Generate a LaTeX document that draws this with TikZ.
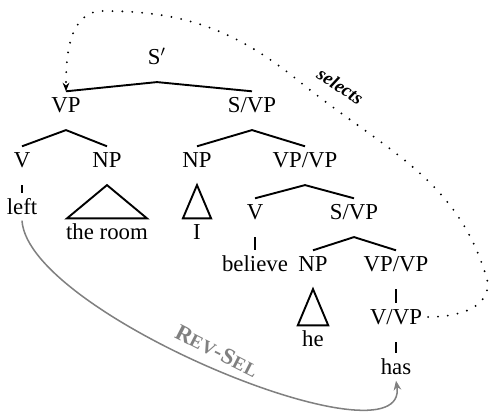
\documentclass[tikz,border=0pt]{standalone}
\usepackage{fontspec}
\setmainfont{Liberation Serif}
\usetikzlibrary{arrows.meta}

\begin{document}
\begin{tikzpicture}[x=0.526pt, y=-0.526pt,
        every node/.style={font=\fontsize{12}{14}\selectfont, inner sep=3pt, text height=8pt, text depth=0pt},
        edge/.style={line width=1pt},
        sel/.style={line width=1.1pt, line cap=round, dash pattern=on 0pt off 5.2pt, -{Stealth[length=4.5pt,width=3.5pt]}},
        rev/.style={gray, line width=0.8pt, -{Stealth[length=5pt,width=4pt]}}]

            %\draw [help lines] (0,0) grid (491,415);
            \useasboundingbox (0,0) rectangle (491,415);

            \path   (157,57) node (a) [] {S$'$}
                    (66,105) node (b) [] {VP}
                    (252,105) node (c) [] {S/VP}
                    (22,160) node (d) [] {V}
                    (107,160) node (e) [] {NP}
                    (197,160) node (f) [] {NP}
                    (305,160) node (g) [] {VP/VP}
                    (22,207) node (h) [] {left}
                    (107,232) node (i) [] {the room}
                    (197,232) node (j) [] {I}
                    (255,212) node (k) [] {V}
                    (354,212) node (l) [] {S/VP}
                    (255,264) node (m) [] {believe}
                    (313,264) node (n) [] {NP}
                    (396,264) node (o) [] {VP/VP}
                    (313,339) node (p) [] {he}
                    (396,317) node (q) [] {V/VP}
                    (396,367) node (r) [] {has};

            \draw [edge] (b.north) -- ([yshift=-6pt]a.south) -- (c.north);
            \draw [edge] (d.north) -- ([yshift=-6pt]b.south) -- (e.north);
            \draw [edge] (f.north) -- ([yshift=-6pt]c.south) -- (g.north);
            \draw [edge] (k.north) -- ([yshift=-6pt]g.south) -- (l.north);
            \draw [edge] (n.north) -- ([yshift=-6pt]l.south) -- (o.north);
            \draw [edge] ([yshift=-6pt]d.south) -- (h.north);
            \draw [edge] ([yshift=-6pt]k.south) -- (m.north);
            \draw [edge] ([yshift=-6pt]o.south) -- (q.north);
            \draw [edge] ([yshift=-6pt]q.south) -- (r.north);
            \draw [edge] ([yshift=-6pt]e.south) -- ([xshift=-21pt]i.north) -- ([xshift=21pt]i.north) -- cycle;
            \draw [edge] ([yshift=-6pt]f.south) -- ([xshift=-7.4pt]j.north) -- ([xshift=7.4pt]j.north) -- cycle;
            \draw [edge] ([yshift=-6pt]n.south) -- ([xshift=-8pt]p.north) -- ([xshift=8pt]p.north) -- cycle;

            \draw [sel] (q.east) to[out=0,in=-90] (488,283) to[out=105,in=-39] (300,82)
                    to[out=141,in=0] (103,11) to[out=180,in=90] (b.north);
            \path   (341,85) node (s) [rotate=-33] {\fontsize{10}{12}\selectfont\bfseries\itshape selects};

            \draw [rev] (h.south) .. controls (28,315) and (410,470) .. (r.south);
            \path   (217,351) node (t) [rotate=-27, text=gray] {\bfseries\addfontfeature{LetterSpace=4}R{\fontsize{9.8}{10}\selectfont EV}-S{\fontsize{9.8}{10}\selectfont EL}};

\end{tikzpicture}
\end{document}
